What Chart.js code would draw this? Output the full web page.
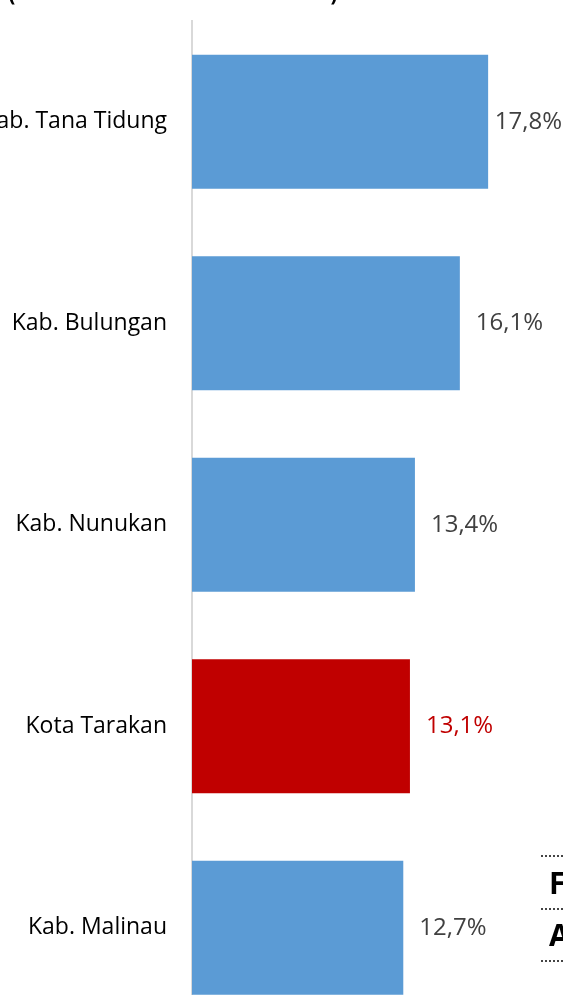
<!DOCTYPE html>
<html>
<head>
<meta charset="utf-8">
<script src="https://cdn.jsdelivr.net/npm/chart.js@4"></script>
<style>
  html, body { margin: 0; padding: 0; background: #fff; overflow: hidden; }
  #wrap { position: absolute; left: 0; top: 0; width: 563px; height: 1030px; }
  .side { position: absolute; left: 549px; font: bold 30px "Open Sans", sans-serif; color: #000; }
  .dots { position: absolute; left: 541px; width: 22px; border-top: 2px dotted #444; }
</style>
</head>
<body>
<div id="wrap"><canvas id="chart" width="563" height="1030"></canvas></div>
<div class="dots" style="top:855px"></div>
<div class="side" style="top:862px">F</div>
<div class="dots" style="top:908px"></div>
<div class="side" style="top:914px">A</div>
<div class="dots" style="top:960px"></div>
<script>
// Data
const titleText = '(Persentase Penduduk Miskin)';
const regions = ['Kab. Tana Tidung', 'Kab. Bulungan', 'Kab. Nunukan', 'Kota Tarakan', 'Kab. Malinau'];
const values = [17.8, 16.1, 13.4, 13.1, 12.7];
const highlighted = 'Kota Tarakan';

const blue = '#5B9BD5';
const red = '#C00000';
const barColors = regions.map(r => r === highlighted ? red : blue);
const labelColors = regions.map(r => r === highlighted ? red : '#404040');

function fmt(v) {
    return v.toFixed(1).replace('.', ',') + '%';
}

// value labels + cut-off title
const extrasPlugin = {
    id: 'extras',
    afterDatasetsDraw(chart) {
        const ctx = chart.ctx;
        const meta = chart.getDatasetMeta(0);
        ctx.save();
        ctx.font = '24px "Open Sans", sans-serif';
        ctx.textBaseline = 'middle';
        ctx.textAlign = 'left';
        meta.data.forEach((bar, i) => {
            const txt = fmt(values[i]);
            const w = ctx.measureText(txt).width;
            const x = Math.min(bar.x + 16, chart.width - w - 1);
            ctx.fillStyle = labelColors[i];
            ctx.fillText(txt, x, bar.y);
        });
        // title sits mostly above the visible area
        ctx.font = 'bold 27px "Open Sans", sans-serif';
        ctx.textBaseline = 'alphabetic';
        ctx.fillStyle = '#000';
        ctx.fillText(titleText, 8, 0, 330);
        ctx.restore();
    }
};

new Chart(document.getElementById('chart').getContext('2d'), {
    type: 'bar',
    data: {
        labels: regions,
        datasets: [{
            data: values,
            backgroundColor: barColors,
            barPercentage: 0.665,
            categoryPercentage: 1
        }]
    },
    options: {
        indexAxis: 'y',
        responsive: false,
        animation: false,
        layout: { padding: { top: 21, bottom: 1.5, left: 0, right: 0 } },
        plugins: {
            legend: { display: false },
            tooltip: { enabled: false }
        },
        scales: {
            x: { display: false, min: 0, max: 22.3 },
            y: {
                grid: { display: false, drawTicks: false },
                border: { display: true, color: '#D9D9D9', width: 2 },
                ticks: {
                    padding: 25,
                    color: '#000',
                    font: { family: 'Open Sans', size: 23 }
                },
                afterFit(scale) {
                    scale.width = 192;
                    scale.paddingTop = 0;
                    scale.paddingBottom = 0;
                }
            }
        }
    },
    plugins: [extrasPlugin]
});
</script>
</body>
</html>
